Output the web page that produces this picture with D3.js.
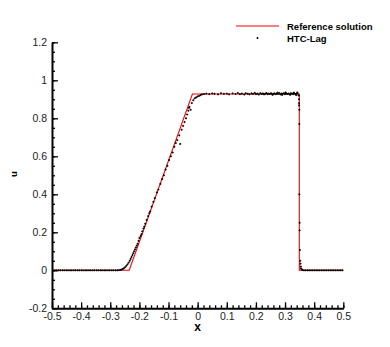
<!DOCTYPE html>
<html>
<head>
<meta charset="utf-8">
<script src="https://cdn.jsdelivr.net/npm/d3@7"></script>
<style>
body { margin: 0; background: #fff; }
text { font-family: "Liberation Sans", Arial, sans-serif; }
</style>
</head>
<body>
<div class="chart"></div>
<script>
// reference solution (exact piecewise profile)
var refX = [-0.5, -0.235, -0.018, 0.349, 0.349, 0.5];
var refU = [0, 0, 0.928, 0.928, 0, 0];

// HTC-Lag particles
var lagX = [-0.497,-0.49,-0.484,-0.477,-0.471,-0.464,-0.458,-0.451,-0.445,-0.438,-0.432,-0.425,-0.419,-0.412,-0.406,-0.399,-0.393,-0.386,-0.38,-0.373,-0.367,-0.36,-0.354,-0.347,-0.341,-0.334,-0.328,-0.321,-0.315,-0.308,-0.302,-0.295,-0.289,-0.282,-0.276,-0.27,
  -0.265,-0.261,-0.257,-0.253,-0.249,-0.245,-0.241,-0.237,-0.233,-0.23,-0.227,-0.224,-0.221,-0.218,-0.215,-0.212,-0.209,-0.206,-0.203,-0.2,-0.196,-0.193,-0.19,-0.186,-0.183,-0.18,-0.175,-0.17,-0.166,-0.163,-0.158,-0.152,-0.147,-0.14,-0.135,-0.128,-0.122,-0.116,-0.11,-0.104,-0.098,-0.092,-0.086,-0.08,-0.075,-0.07,-0.063,-0.06,-0.055,-0.05,-0.045,-0.04,-0.036,-0.032,-0.03,-0.028,-0.024,-0.02,-0.015,-0.01,-0.005,0.0,0.005,0.01,0.015,
  0.022,0.03,0.04,0.05,0.058,0.07,0.08,0.09,0.1,0.108,0.12,0.13,0.138,0.145,0.152,0.16,0.165,0.172,0.178,0.185,0.19,0.196,0.2,0.205,0.21,0.215,0.22,0.224,0.228,0.232,0.236,0.24,0.244,0.248,0.252,0.256,0.26,0.264,0.268,0.272,0.276,0.28,0.284,0.288,0.292,0.296,0.3,0.304,0.308,0.312,0.316,0.32,0.324,0.328,0.332,0.336,0.34,0.344,
  0.258,0.274,0.29,0.302,0.318,0.33,0.338,0.342,
  0.347,0.348,0.348,0.348,0.349,0.349,0.349,0.35,0.35,0.351,0.352,0.353,0.354,0.355,0.357,0.36,
  0.365,0.371,0.377,0.383,0.389,0.395,0.401,0.407,0.413,0.419,0.425,0.431,0.437,0.443,0.449,0.455,0.461,0.467,0.473,0.479,0.485,0.491,0.497];
var lagU = [0,0,0,0,0,0,0,0,0,0,0,0,0,0,0,0,0,0,0,0,0,0,0,0,0,0,0,0,0,0,0,0,0,0,0,0.001,
  0.002,0.004,0.007,0.011,0.016,0.023,0.031,0.04,0.05,0.06,0.07,0.08,0.09,0.1,0.11,0.12,0.13,0.14,0.155,0.17,0.18,0.19,0.205,0.22,0.23,0.245,0.265,0.285,0.3,0.31,0.335,0.36,0.38,0.41,0.425,0.455,0.48,0.5,0.53,0.55,0.58,0.6,0.62,0.65,0.67,0.685,0.71,0.665,0.74,0.76,0.78,0.8,0.82,0.84,0.855,0.86,0.845,0.88,0.895,0.905,0.91,0.915,0.918,0.922,0.926,
  0.928,0.93,0.927,0.931,0.929,0.926,0.932,0.929,0.93,0.926,0.931,0.928,0.933,0.927,0.93,0.925,0.932,0.929,0.926,0.931,0.928,0.934,0.927,0.93,0.925,0.932,0.928,0.931,0.926,0.929,0.933,0.927,0.93,0.928,0.932,0.926,0.929,0.931,0.927,0.93,0.928,0.933,0.926,0.93,0.929,0.932,0.927,0.931,0.928,0.93,0.926,0.932,0.929,0.927,0.931,0.928,0.93,0.929,
  0.924,0.935,0.923,0.936,0.924,0.935,0.922,0.936,
  0.92,0.9,0.88,0.868,0.845,0.77,0.4,0.25,0.21,0.107,0.05,0.035,0.02,0.01,0.005,0.002,
  0,0,0,0,0,0,0,0,0,0,0,0,0,0,0,0,0,0,0,0,0,0,0];

var xMajor = [-0.5,-0.4,-0.3,-0.2,-0.1,0,0.1,0.2,0.3,0.4,0.5];
var xMajorLabels = ["-0.5","-0.4","-0.3","-0.2","-0.1","0","0.1","0.2","0.3","0.4","0.5"];
var yMajor = [-0.2,0,0.2,0.4,0.6,0.8,1,1.2];
var yMajorLabels = ["-0.2","0","0.2","0.4","0.6","0.8","1","1.2"];

var width = 390, height = 347;
var plotL = 52, plotR = 343.3, plotT = 42.3, plotB = 308.3;

var svg = d3.select(".chart").append("svg")
  .attr("width", width)
  .attr("height", height);

var x = d3.scaleLinear().domain([-0.5, 0.5]).range([plotL, plotR]);
var y = d3.scaleLinear().domain([-0.2, 1.2]).range([plotB, plotT]);

// minor ticks
var xMinor = d3.range(-50, 51, 2).map(function(d){ return d / 100; });
var yMinor = d3.range(-20, 121, 5).map(function(d){ return d / 100; });

svg.append("g")
  .attr("transform", "translate(0," + plotB + ")")
  .call(d3.axisBottom(x).tickValues(xMinor).tickSize(-3).tickFormat(""))
  .call(function(g){ g.select(".domain").remove(); });
svg.append("g")
  .attr("transform", "translate(" + plotL + ",0)")
  .call(d3.axisLeft(y).tickValues(yMinor).tickSize(-3).tickFormat(""))
  .call(function(g){ g.select(".domain").remove(); });

var xAxis = svg.append("g")
  .attr("transform", "translate(0," + plotB + ")")
  .call(d3.axisBottom(x).tickValues(xMajor).tickSizeInner(-6).tickSizeOuter(0).tickPadding(4)
    .tickFormat(function(d, i){ return xMajorLabels[i]; }));
var yAxis = svg.append("g")
  .attr("transform", "translate(" + plotL + ",0)")
  .call(d3.axisLeft(y).tickValues(yMajor).tickSizeInner(-6).tickSizeOuter(0).tickPadding(5)
    .tickFormat(function(d, i){ return yMajorLabels[i]; }));

svg.selectAll(".tick line").attr("stroke", "#000").attr("stroke-width", 1.3);
svg.selectAll(".domain").attr("stroke", "#000").attr("stroke-width", 2);
svg.selectAll(".tick text").attr("font-size", 10.5).attr("fill", "#222")
  .style("font-family", "'Liberation Sans', Arial, sans-serif");

// reference line
var line = d3.line()
  .x(function(d){ return x(refX[d]); })
  .y(function(d){ return y(refU[d]); });
svg.append("path")
  .attr("d", line(d3.range(refX.length)))
  .attr("fill", "none")
  .attr("stroke", "#f00")
  .attr("stroke-width", 1.1);

// particles
svg.append("g").selectAll("path")
  .data(d3.range(lagX.length))
  .enter().append("path")
  .attr("transform", function(i){ return "translate(" + x(lagX[i]) + "," + y(lagU[i]) + ")"; })
  .attr("d", "M-1,0H1M0,-1V1")
  .attr("stroke", "#000")
  .attr("stroke-width", 1);

// axis titles
svg.append("text")
  .attr("x", (plotL + plotR) / 2).attr("y", 331)
  .attr("text-anchor", "middle")
  .attr("font-size", 12).attr("font-weight", "bold")
  .text("x");
svg.append("text")
  .attr("transform", "translate(17,174) rotate(-90)")
  .attr("text-anchor", "middle")
  .attr("font-size", 9.5).attr("font-weight", "bold")
  .text("u");

// legend
svg.append("line")
  .attr("x1", 236).attr("x2", 279).attr("y1", 26).attr("y2", 26)
  .attr("stroke", "#f00").attr("stroke-width", 1.1);
svg.append("path")
  .attr("transform", "translate(257.5,38)")
  .attr("d", "M-1,0H1M0,-1V1")
  .attr("stroke", "#000");
svg.append("text").attr("x", 287).attr("y", 29.5)
  .attr("font-size", 9.5).attr("font-weight", "bold").text("Reference solution");
svg.append("text").attr("x", 287).attr("y", 41.5)
  .attr("font-size", 9.5).attr("font-weight", "bold").text("HTC-Lag");
</script>
</body>
</html>
